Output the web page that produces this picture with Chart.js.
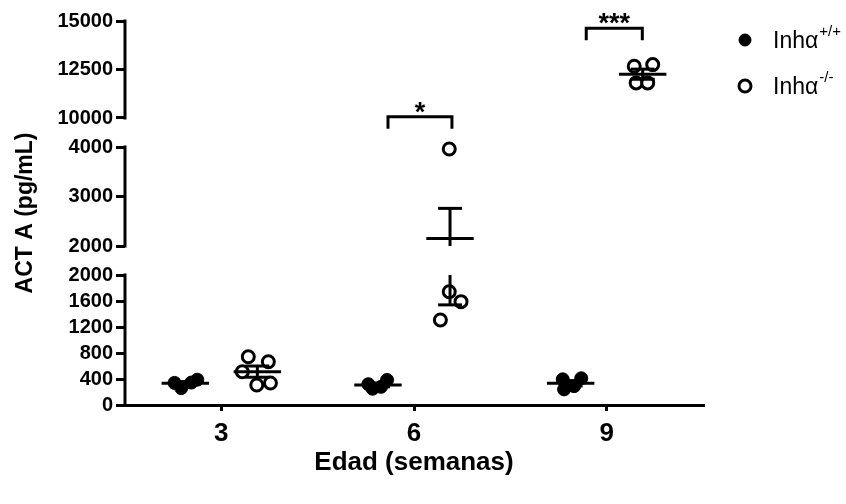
<!DOCTYPE html>
<html>
<head>
<meta charset="utf-8">
<script src="https://cdn.jsdelivr.net/npm/chart.js@4.4.1/dist/chart.umd.min.js"></script>
<style>
html,body{margin:0;padding:0;background:#fff;}
#wrap{width:846px;height:504px;position:relative;}
</style>
</head>
<body>
<div id="wrap"><canvas id="c"></canvas></div>
<script>
// ---------- data ----------
const ageLabels = ['3', '6', '9'];
const legendBase = 'Inhα';
const legendSup = ['+/+', '-/-'];
const wtValues = [[340, 260, 345, 390], [320, 250, 280, 385], [395, 240, 290, 411]];
const wtSpread = [[-0.056, -0.021, 0.031, 0.062], [-0.050, -0.028, 0.016, 0.047], [-0.041, -0.034, 0.018, 0.055]];
const koValues = [[743, 666, 512, 308, 338], [3960, 1743, 1590, 1308], [12665, 12753, 11808, 11808]];
const koSpread = [[-0.047, 0.057, -0.078, -0.003, 0.068], [-0.004, -0.004, 0.057, -0.050], [-0.044, 0.052, -0.034, 0.026]];
const yTicksLow = [0, 400, 800, 1200, 1600, 2000];
const yTicksMid = [2000, 3000, 4000];
const yTicksHigh = [10000, 12500, 15000];
const bracketFrom = [1.865, 2.894];
const bracketTo = [2.197, 3.185];
const bracketValue = [10060, 14620];
const bracketLabel = ['*', '***'];
const yTitle = 'ACT A (pg/mL)';
const xTitle = 'Edad (semanas)';

// ---------- layout / style constants ----------
const GROUP_SHIFT = 0.187;
const MEAN_HALF = 0.123;
const CAP_HALF = 0.062;
const GAP = 29;
const segments = [
  {lo: 0, hi: 2000, size: 130, ticks: yTicksLow},
  {lo: 2000, hi: 4000, size: 99, ticks: yTicksMid},
  {lo: 10000, hi: 15000, size: 97, ticks: yTicksHigh}
];
let acc = 0;
segments.forEach(s => { s.base = acc; acc += s.size + GAP; });
const AXIS_MAX = acc - GAP;

function toSeg(v, s) { return s.base + (v - s.lo) / (s.hi - s.lo) * s.size; }
function toAxis(v) {
  for (const s of segments) { if (v >= s.lo && v <= s.hi) return toSeg(v, s); }
  return null;
}
const tickList = [];
segments.forEach(s => s.ticks.forEach(t => tickList.push({u: toSeg(t, s), label: String(t)})));

function mean(a) { return a.reduce((p, c) => p + c, 0) / a.length; }
function sem(a) {
  const m = mean(a);
  const sd = Math.sqrt(a.reduce((p, c) => p + (c - m) * (c - m), 0) / (a.length - 1));
  return sd / Math.sqrt(a.length);
}

const wtPoints = wtValues.flatMap((vals, g) => vals.map((v, i) => ({x: g + 1 - GROUP_SHIFT + wtSpread[g][i], y: toAxis(v)})));
const koPoints = koValues.flatMap((vals, g) => vals.map((v, i) => ({x: g + 1 + GROUP_SHIFT + koSpread[g][i], y: toAxis(v)})));

const BOLD = '"Liberation Sans", Arial, Helvetica, sans-serif';
const LEGEND_FONT = '"Liberation Sans Narrow", "Arial Narrow", "Liberation Sans", Arial, sans-serif';

function seg(ctx, x1, y1, x2, y2) { ctx.beginPath(); ctx.moveTo(x1, y1); ctx.lineTo(x2, y2); ctx.stroke(); }

const overlay = {
  id: 'overlay',
  afterDatasetsDraw(chart) {
    const {ctx, scales: {x, y}} = chart;
    ctx.save();
    ctx.strokeStyle = '#000';
    ctx.lineWidth = 3;
    ctx.lineCap = 'butt';
    [[wtValues, -GROUP_SHIFT], [koValues, GROUP_SHIFT]].forEach(([vals, sh]) => {
      vals.forEach((arr, g) => {
        const c = g + 1 + sh;
        const m = mean(arr), s = sem(arr);
        const px = x.getPixelForValue(c);
        const hw = x.getPixelForValue(c + MEAN_HALF) - px;
        const cw = x.getPixelForValue(c + CAP_HALF) - px;
        const ym = y.getPixelForValue(toAxis(m));
        seg(ctx, px - hw, ym, px + hw, ym);
        segments.forEach(sg => {
          const a = Math.max(sg.lo, m - s), b = Math.min(sg.hi, m + s);
          if (a < b) seg(ctx, px, y.getPixelForValue(toSeg(a, sg)), px, y.getPixelForValue(toSeg(b, sg)));
        });
        [m - s, m + s].forEach(v => {
          const u = toAxis(v);
          if (u !== null) { const yy = y.getPixelForValue(u); seg(ctx, px - cw, yy, px + cw, yy); }
        });
      });
    });
    // significance brackets
    ctx.lineJoin = 'miter';
    bracketLabel.forEach((lab, i) => {
      const x1 = x.getPixelForValue(bracketFrom[i]);
      const x2 = x.getPixelForValue(bracketTo[i]);
      const yt = y.getPixelForValue(toAxis(bracketValue[i]));
      ctx.beginPath();
      ctx.moveTo(x1, yt + 12); ctx.lineTo(x1, yt); ctx.lineTo(x2, yt); ctx.lineTo(x2, yt + 12);
      ctx.stroke();
      ctx.fillStyle = '#000';
      ctx.font = 'bold 27px ' + BOLD;
      ctx.textAlign = 'center';
      ctx.textBaseline = 'alphabetic';
      ctx.fillText(lab, (x1 + x2) / 2, yt + 4);
    });
    ctx.restore();
  },
  afterDraw(chart) {
    const {ctx, chartArea, scales: {y}} = chart;
    ctx.save();
    ctx.strokeStyle = '#000';
    ctx.lineWidth = 3;
    const ax = chartArea.left;
    segments.forEach(sg => {
      const y1 = y.getPixelForValue(sg.base);
      const y2 = y.getPixelForValue(sg.base + sg.size);
      seg(ctx, ax, y1 + 1.5, ax, y2 - 1.5);
    });
    // legend
    const lx = chartArea.right + 42;
    const rows = [40, 86];
    const styles = [{fill: '#000', r: 6, bw: 1}, {fill: '#fff', r: 6, bw: 3}];
    rows.forEach((ry, i) => {
      ctx.beginPath();
      ctx.arc(lx, ry, styles[i].r, 0, Math.PI * 2);
      ctx.fillStyle = styles[i].fill;
      ctx.fill();
      ctx.lineWidth = styles[i].bw;
      ctx.strokeStyle = '#000';
      ctx.stroke();
      ctx.fillStyle = '#000';
      ctx.textAlign = 'left';
      ctx.textBaseline = 'middle';
      ctx.font = '23px ' + LEGEND_FONT;
      const tx = lx + 28;
      ctx.fillText(legendBase, tx, ry + 2);
      const w = ctx.measureText(legendBase).width;
      ctx.font = '15px ' + LEGEND_FONT;
      ctx.fillText(legendSup[i], tx + w + 1, ry - 8);
    });
    ctx.restore();
  }
};

new Chart(document.getElementById('c'), {
  type: 'scatter',
  data: {
    datasets: [
      {label: legendBase + legendSup[0], data: wtPoints, pointRadius: 6.5, pointHoverRadius: 6.5,
       pointBackgroundColor: '#000', pointBorderColor: '#000', pointBorderWidth: 1},
      {label: legendBase + legendSup[1], data: koPoints, pointRadius: 6, pointHoverRadius: 6,
       pointBackgroundColor: '#fff', pointBorderColor: '#000', pointBorderWidth: 3}
    ]
  },
  options: {
    responsive: true,
    maintainAspectRatio: false,
    animation: false,
    events: [],
    layout: {padding: {left: 0, right: 143, top: 21, bottom: 0}},
    plugins: {legend: {display: false}, tooltip: {enabled: false}},
    scales: {
      x: {
        type: 'linear', min: 0.5, max: 3.5,
        afterBuildTicks: s => { s.ticks = ageLabels.map((_, i) => ({value: i + 1})); },
        afterFit: s => { s.height = 99; },
        ticks: {callback: (v, i) => ageLabels[i], color: '#000', padding: 7, autoSkip: false, maxRotation: 0,
                font: {family: BOLD, size: 26, weight: 'bold'}},
        grid: {display: true, drawOnChartArea: false, drawTicks: true, tickLength: 6, color: '#000', lineWidth: 3},
        border: {display: true, color: '#000', width: 3},
        title: {display: true, text: xTitle, color: '#000', padding: {top: 0, bottom: 26},
                font: {family: BOLD, size: 26, weight: 'bold'}}
      },
      y: {
        type: 'linear', min: 0, max: AXIS_MAX,
        afterBuildTicks: s => { s.ticks = tickList.map(t => ({value: t.u})); },
        afterFit: s => { s.width = 125; },
        ticks: {callback: (v, i) => tickList[i].label, color: '#000', padding: 3, autoSkip: false,
                font: {family: BOLD, size: 20, weight: 'bold'}},
        grid: {display: true, drawOnChartArea: false, drawTicks: true, tickLength: 9, color: '#000', lineWidth: 3},
        border: {display: false},
        title: {display: true, text: yTitle, color: '#000', padding: {top: 12, bottom: 0},
                font: {family: BOLD, size: 23, weight: 'bold'}}
      }
    }
  },
  plugins: [overlay]
});
</script>
</body>
</html>
